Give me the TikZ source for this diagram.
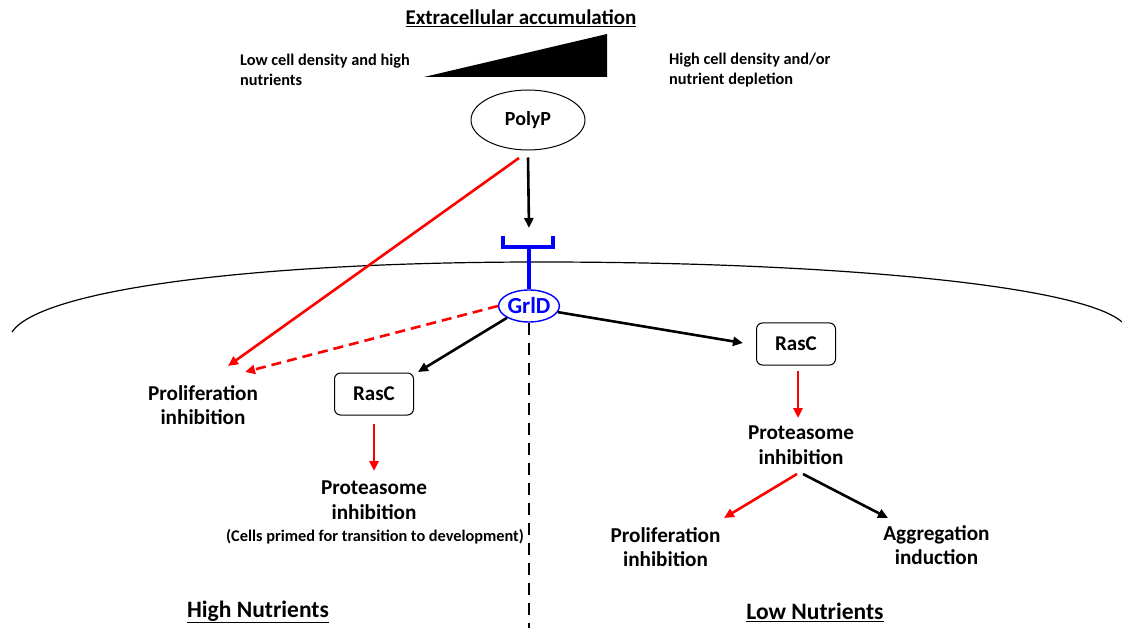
\documentclass[tikz,border=0pt]{standalone}
\usepackage{fontspec}
\setmainfont{Carlito}
\usetikzlibrary{arrows.meta,shapes.geometric}
\begin{document}
\begin{tikzpicture}[x=1pt,y=-1pt,
  lbl/.style={font=\bfseries\fontsize{21.2}{24.5}\selectfont, align=center, inner sep=0pt},
  big/.style={font=\bfseries\fontsize{23.5}{26}\selectfont, align=center, inner sep=0pt},
  small/.style={font=\bfseries\fontsize{16.3}{20}\selectfont, align=left, inner sep=0pt, anchor=west},
  rbox/.style={draw, rounded corners=6pt, minimum width=79pt, minimum height=42pt, line width=1pt, font=\bfseries\fontsize{21}{24}\selectfont},
  blkarr/.style={-{Triangle[length=10pt,width=9pt]}, line width=2.6pt, black},
  redarr/.style={-{Triangle[length=10pt,width=9pt]}, line width=2.6pt, red},
  memb/.style={line width=1.2pt},
]
\useasboundingbox (0,0) rectangle (1122,628);
% title
\node[lbl, font=\bfseries\fontsize{21}{24}\selectfont] (title) at (521,18) {\underline{Extracellular accumulation}};
\fill (424,77) -- (607,77) -- (607,34) -- cycle;
\node[small] (low) at (240,70) {Low cell density and high\\nutrients};
\node[small] (high) at (669,70) {High cell density and/or\\nutrient depletion};
% PolyP
\node[draw, ellipse, minimum width=114pt, minimum height=60pt, line width=1pt, font=\bfseries\fontsize{20}{22}\selectfont] (polyp) at (528,120) {PolyP};
% membrane
\draw[memb] (12,332) .. controls (40,290) and (250,262) .. (540,262)
  .. controls (830,262) and (1080,285) .. (1122,322);
% receptor
\node[draw=blue, ellipse, minimum width=58pt, minimum height=32pt, inner sep=0pt, line width=1.4pt, text=blue, font=\bfseries\fontsize{23}{24}\selectfont, fill=white] (grld) at (529,306) {GrlD};
\coordinate (cupL) at (503,236);
\coordinate (cupR) at (553,236);
\coordinate (cupM) at (529,247);
\draw[blue, line width=3.4pt] (cupL) -- (503,247) -- (553,247) -- (cupR);
\draw[blue, line width=3.4pt] (cupM) -- (grld.north);
% PolyP -> receptor
\coordinate (pt) at (529,228);
\draw[blkarr] ([yshift=-7pt]polyp.south) -- (pt);
% dashed divider
\coordinate (dtop) at (529,323);
\coordinate (dbot) at (529,628);
\draw[line width=2.6pt, dash pattern=on 12pt off 8pt] (dtop) -- (dbot);
% left side
\node[lbl] (pi1) at (203,405) {Proliferation\\inhibition};
\node[rbox] (rasc1) at (374,394) {RasC};
\node[lbl] (pro1) at (374,500) {Proteasome\\inhibition};
\node[font=\bfseries\fontsize{16.3}{18}\selectfont, inner sep=0pt] (cells) at (375,537) {(Cells primed for transition to development)};
\coordinate (ps) at (519,158);
\coordinate (t1) at (228,366);
\coordinate (t2) at (245,372);
\coordinate (t3) at (418,372);
\draw[redarr] (ps) -- (t1);
\draw[redarr, dash pattern=on 10pt off 6pt] (grld.west) -- (t2);
\draw[blkarr] (grld.south west) -- (t3);
\coordinate (r1s) at (374,424);
\coordinate (r1e) at (374,471);
\draw[redarr] (r1s) -- (r1e);
% right side
\node[rbox] (rasc2) at (796,344) {RasC};
\node[lbl] (pro2) at (801,445) {Proteasome\\inhibition};
\node[lbl] (pi2) at (665.5,547) {Proliferation\\inhibition};
\node[lbl] (agg) at (936.5,545) {Aggregation\\induction};
\coordinate (t4) at (743,343);
\draw[blkarr] (grld.-12) -- (t4);
\coordinate (r2s) at (798,371);
\coordinate (r2e) at (798,418);
\draw[redarr] (r2s) -- (r2e);
\coordinate (s1) at (797,474);
\coordinate (s2) at (803,474);
\coordinate (e1) at (724,518);
\coordinate (e2) at (888,518);
\draw[redarr] (s1) -- (e1);
\draw[blkarr] (s2) -- (e2);
% bottom labels
\node[big] (hn) at (258,612) {\underline{High Nutrients}};
\node[big] (ln) at (815,612) {\underline{Low Nutrients}};
\end{tikzpicture}
\end{document}
